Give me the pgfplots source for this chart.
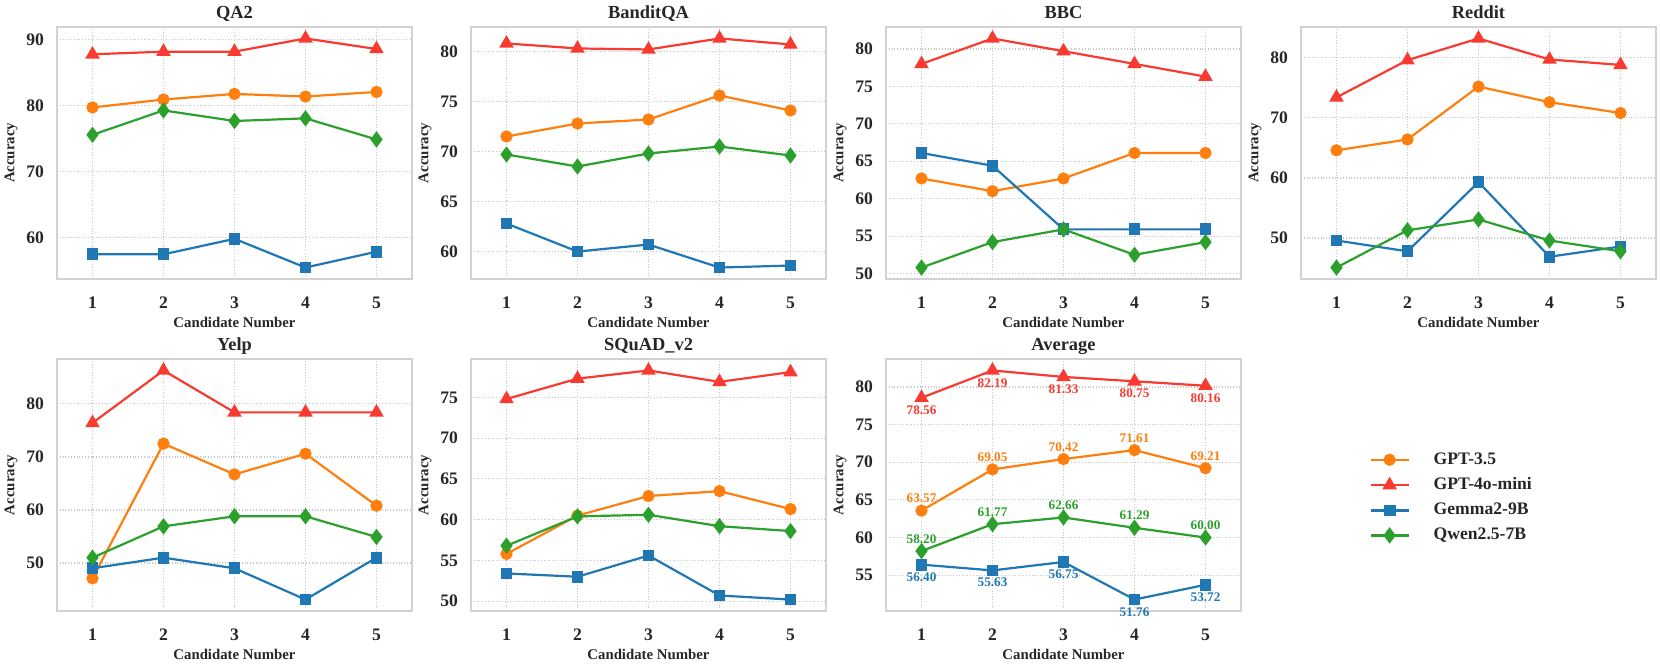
\documentclass[border=0pt]{standalone}
\usepackage{fontspec}
\setmainfont{Liberation Serif}
\usepackage{pgfplots}
\usepackage{pgfplotstable}
\pgfplotsset{compat=1.18}

\definecolor{cgpt}{HTML}{FF7F0E}
\definecolor{cmini}{HTML}{F93A30}
\definecolor{cgem}{HTML}{1F77B4}
\definecolor{cqw}{HTML}{2CA02C}

% x gpt35 mini gemma qwen
\pgfplotstableread{
x gpt mini gem qw
1 79.75 87.8 57.5 75.6
2 80.95 88.2 57.5 79.3
3 81.8 88.2 59.85 77.7
4 81.4 90.2 55.5 78.1
5 82.1 88.6 57.9 74.9
}\qatwo
\pgfplotstableread{
x gpt mini gem qw
1 71.5 80.8 62.8 69.7
2 72.8 80.3 60.0 68.5
3 73.2 80.2 60.7 69.8
4 75.6 81.3 58.4 70.5
5 74.1 80.7 58.6 69.6
}\bandit
\pgfplotstableread{
x gpt mini gem qw
1 62.7 78.0 66.1 50.8
2 61.0 81.4 64.4 54.2
3 62.7 79.7 55.9 55.9
4 66.1 78.0 55.9 52.5
5 66.1 76.3 55.9 54.2
}\bbc
\pgfplotstableread{
x gpt mini gem qw
1 64.6 73.4 49.6 45.1
2 66.4 79.6 47.8 51.3
3 75.2 83.2 59.3 53.1
4 72.6 79.7 46.9 49.6
5 70.8 78.8 48.6 47.8
}\reddit
\pgfplotstableread{
x gpt mini gem qw
1 47.1 76.4 49.0 51.0
2 72.5 86.3 51.0 56.9
3 66.7 78.4 49.0 58.8
4 70.6 78.4 43.1 58.8
5 60.8 78.4 51.0 54.9
}\yelp
\pgfplotstableread{
x gpt mini gem qw
1 55.8 74.8 53.4 56.8
2 60.5 77.3 53.0 60.4
3 62.9 78.3 55.6 60.6
4 63.5 76.9 50.7 59.2
5 61.3 78.1 50.2 58.6
}\squad
\pgfplotstableread{
x gpt mini gem qw
1 63.57 78.56 56.40 58.20
2 69.05 82.19 55.63 61.77
3 70.42 81.33 56.75 62.66
4 71.61 80.75 51.76 61.29
5 69.21 80.16 53.72 60.00
}\avg

\pgfplotsset{
  panel/.style={
    scale only axis, width=177.5pt, height=126pt,
    anchor=north west,
    xmin=0.5, xmax=5.5, xtick={1,...,5},
    enlarge y limits=0.05,
    grid=major,
    major grid style={densely dotted, gray!45, line width=0.6pt},
    axis line style={gray!35, line width=1pt},
    tick style={draw=none},
    ticklabel style={font=\fontsize{8.8}{9}\selectfont\bfseries, text=black!85},
    xticklabel style={yshift=-5.5pt},
    yticklabel style={xshift=-3pt},
    /pgf/number format/assume math mode=true,
    xlabel={Candidate Number}, ylabel={Accuracy},
    label style={font=\fontsize{7.4}{8}\selectfont\bfseries, text=black!85},
    xlabel style={yshift=2.5pt},
    ylabel style={yshift=-2.5pt},
    every axis title/.style={font=\fontsize{9.2}{10}\selectfont\bfseries, text=black!85,
      at={(0.5,1)}, anchor=base, yshift=4.5pt},
  },
  sgpt/.style={color=cgpt, line width=1.1pt, mark=*, mark size=2.5pt, mark options={solid}},
  smini/.style={color=cmini, line width=1.1pt, mark=triangle*, mark size=3.1pt, mark options={solid}},
  sgem/.style={color=cgem, line width=1.1pt, mark=square*, mark size=2.4pt, mark options={solid}},
  sqw/.style={color=cqw, line width=1.1pt, mark=diamond*, mark size=3.2pt, mark options={solid}},
  lbl/.style={nodes near coords,
    every node near coord/.append style={font=\fontsize{6.6}{7}\selectfont\bfseries, color=#1},
    /pgf/number format/fixed, /pgf/number format/fixed zerofill,
    /pgf/number format/precision=2},
}

\newcommand{\fourplots}[1]{%
  \addplot[sgpt] table[x=x,y=gpt] {#1};
  \addplot[smini] table[x=x,y=mini] {#1};
  \addplot[sgem] table[x=x,y=gem] {#1};
  \addplot[sqw] table[x=x,y=qw] {#1};
}

\begin{document}
\begin{tikzpicture}
\useasboundingbox (0,0) rectangle (830.5pt,333pt);

\begin{axis}[panel, at={(28.5pt,319.5pt)}, title={QA2}, ytick={60,70,80,90}]
\fourplots{\qatwo}
\end{axis}

\begin{axis}[panel, at={(235.5pt,319.5pt)}, title={BanditQA}, ytick={60,65,...,80}]
\fourplots{\bandit}
\end{axis}

\begin{axis}[panel, at={(443pt,319.5pt)}, title={BBC}, ytick={50,55,...,80}]
\fourplots{\bbc}
\end{axis}

\begin{axis}[panel, at={(650.5pt,319.5pt)}, title={Reddit}, ytick={50,60,70,80}]
\fourplots{\reddit}
\end{axis}

\begin{axis}[panel, at={(28.5pt,153.5pt)}, title={Yelp}, ytick={50,60,70,80}]
\fourplots{\yelp}
\end{axis}

\begin{axis}[panel, at={(235.5pt,153.5pt)}, title={SQuAD\_v2}, ytick={50,55,...,75}]
\fourplots{\squad}
\end{axis}

\begin{axis}[panel, at={(443pt,153.5pt)}, title={Average}, ytick={55,60,...,80}]
\addplot[sgpt, lbl=cgpt, nodes near coords align={above}] table[x=x,y=gpt] {\avg};
\addplot[smini, lbl=cmini, nodes near coords align={below}] table[x=x,y=mini] {\avg};
\addplot[sgem, lbl=cgem, nodes near coords align={below}] table[x=x,y=gem] {\avg};
\addplot[sqw, lbl=cqw, nodes near coords align={above}] table[x=x,y=qw] {\avg};
\end{axis}

\begin{axis}[scale only axis, width=177.5pt, height=126pt, anchor=north west,
  at={(650.5pt,153.5pt)}, hide axis, xmin=0, xmax=1, ymin=0, ymax=1,
  legend style={at={(0.175,0.45)}, anchor=west, draw=none, fill=none,
    font=\fontsize{8.8}{9}\selectfont\bfseries, text=black!85,
    row sep=1.2pt, nodes={inner xsep=4pt},
    /tikz/every odd column/.append style={column sep=8pt}},
  legend image code/.code={%
    \draw[mark repeat=2, mark phase=2] plot coordinates {(0pt,0pt) (9.5pt,0pt) (19pt,0pt)};},
  legend cell align=left]
\addlegendimage{sgpt}
\addlegendentry{GPT-3.5}
\addlegendimage{smini}
\addlegendentry{GPT-4o-mini}
\addlegendimage{sgem}
\addlegendentry{Gemma2-9B}
\addlegendimage{sqw}
\addlegendentry{Qwen2.5-7B}
\end{axis}
\end{tikzpicture}
\end{document}
